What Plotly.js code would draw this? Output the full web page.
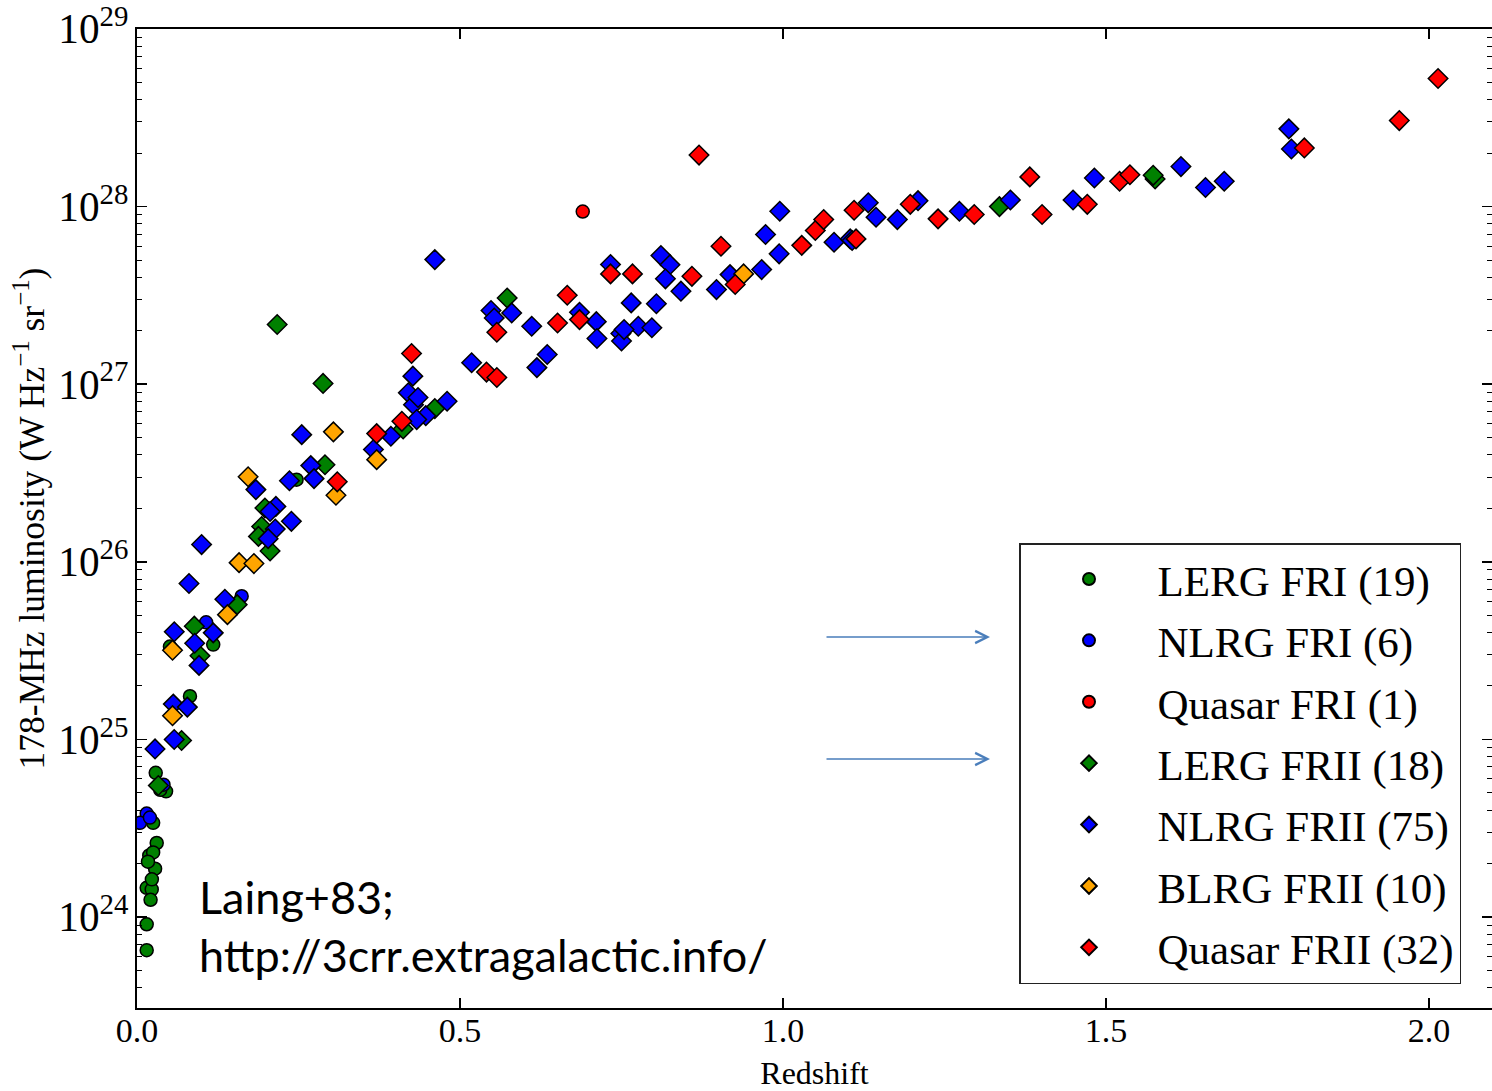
<!DOCTYPE html>
<html>
<head>
<meta charset="utf-8">
<script src="https://cdn.plot.ly/plotly-3.0.1.min.js"></script>
<style>html,body{margin:0;padding:0;background:#fff;} #chart{width:1492px;height:1091px;}</style>
</head>
<body>
<div id="chart"></div>
<script>
// ---- Data (redshift z, 178-MHz luminosity in W Hz^-1 sr^-1) ----
const lergFRI_z = [0.247, 0.118, 0.051, 0.082, 0.029, 0.045, 0.025, 0.0305, 0.019, 0.025, 0.028, 0.015, 0.0228, 0.021, 0.015, 0.015, 0.036, 0.017, 0.023];
const lergFRI_L = [2.90e26, 3.42e25, 3.33e25, 1.75e25, 6.48e24, 5.10e24, 3.39e24, 2.61e24, 2.22e24, 2.31e24, 1.87e24, 1.46e24, 1.43e24, 1.25e24, 9.1e23, 6.5e23, 5.2e24, 2.05e24, 1.63e24];

const nlrgFRI_z = [0.162, 0.107, 0.041, 0.015, 0.0046, 0.020];
const nlrgFRI_L = [6.40e25, 4.56e25, 5.56e24, 3.82e24, 3.39e24, 3.63e24];

const qsoFRI_z = [0.690];
const qsoFRI_L = [9.38e27];

const lergFRII_z = [0.291, 0.198, 0.193, 0.188, 0.206, 0.155, 0.0887, 0.0975, 0.069, 0.033, 0.217, 0.288, 0.461, 0.412, 0.573, 1.335, 1.576, 1.573];
const lergFRII_L = [3.52e26, 2.01e26, 1.58e26, 1.39e26, 1.15e26, 5.74e25, 4.34e25, 2.96e25, 9.85e24, 5.50e24, 2.17e27, 1.01e27, 7.29e26, 5.60e26, 3.06e27, 1.0e28, 1.43e28, 1.50e28];

const nlrgFRII_z = [0.255, 0.269, 0.236, 0.274, 0.184, 0.215, 0.239, 0.214, 0.203, 0.100,
  0.0805, 0.136, 0.0577, 0.118, 0.0893, 0.096, 0.0562, 0.0779, 0.0576, 0.0279,
  0.461, 0.733, 0.548, 0.580, 0.553, 0.611, 0.685, 0.711, 0.712, 0.765,
  0.776, 0.749, 0.750, 0.635, 0.619, 0.427, 0.518, 0.420, 0.428, 0.480,
  0.447, 0.433, 0.393, 0.366, 0.804, 0.811, 0.825, 0.818, 0.842, 0.797,
  0.918, 0.897, 0.967, 0.973, 0.994, 0.995, 1.079, 1.104, 1.132, 1.144,
  1.177, 1.209, 1.273, 1.352, 1.449, 1.482, 1.616, 1.654, 1.683, 1.783,
  1.787, 0.435, 0.754, 0.206, 1.107];
const nlrgFRII_L = [5.20e26, 3.48e26, 2.86e26, 2.94e26, 2.55e26, 2.05e26, 1.69e26, 1.53e26, 1.35e26, 1.25e26,
  7.55e25, 6.15e25, 4.04e25, 3.98e25, 3.48e25, 2.61e25, 1.58e25, 1.52e25, 9.98e24, 8.84e24,
  5.03e27, 4.72e27, 2.60e27, 2.52e27, 2.36e27, 2.12e27, 2.54e27, 2.25e27, 1.81e27, 2.87e27,
  2.12e27, 1.93e27, 1.75e27, 1.47e27, 1.24e27, 1.11e27, 1.32e27, 8.94e26, 7.67e26, 8.01e26,
  6.65e26, 6.32e26, 5.09e26, 4.29e26, 2.84e27, 5.30e27, 4.71e27, 3.92e27, 3.34e27, 2.08e27,
  4.14e27, 3.41e27, 4.42e27, 6.96e27, 5.42e27, 9.42e27, 6.30e27, 6.58e27, 1.05e28, 8.71e27,
  8.45e27, 1.08e28, 9.42e27, 1.09e28, 1.09e28, 1.45e28, 1.68e28, 1.28e28, 1.39e28, 2.74e28,
  2.11e28, 8.41e26, 2.03e27, 1.92e26, 6.44e27];

const blrgFRII_z = [0.055, 0.055, 0.140, 0.158, 0.181, 0.172, 0.304, 0.308, 0.371, 0.939];
const blrgFRII_L = [3.18e25, 1.36e25, 5.04e25, 9.89e25, 9.77e25, 3.01e26, 5.39e26, 2.37e26, 3.76e26, 4.18e27];

const qsoFRII_z = [0.310, 0.371, 0.410, 0.425, 0.541, 0.557, 0.557, 0.651, 0.666, 0.685,
  0.733, 0.767, 0.859, 0.870, 0.904, 0.926, 1.029, 1.050, 1.063, 1.110,
  1.113, 1.197, 1.240, 1.296, 1.382, 1.401, 1.471, 1.521, 1.537, 1.807,
  1.954, 2.014];
const qsoFRII_L = [2.82e26, 5.27e26, 6.18e26, 1.49e27, 1.17e27, 1.09e27, 1.96e27, 2.21e27, 3.17e27, 2.31e27,
  4.18e27, 4.18e27, 4.05e27, 1.95e28, 5.98e27, 3.64e27, 6.05e27, 7.33e27, 8.45e27, 9.53e27,
  6.58e27, 1.03e28, 8.53e27, 9.02e27, 1.47e28, 9.02e27, 1.03e28, 1.39e28, 1.51e28, 2.14e28,
  3.05e28, 5.26e28];

const seriesNames = ['LERG FRI (19)', 'NLRG FRI (6)', 'Quasar FRI (1)', 'LERG FRII (18)', 'NLRG FRII (75)', 'BLRG FRII (10)', 'Quasar FRII (32)'];
const xTickVals = [0.0, 0.5, 1.0, 1.5, 2.0];
const xTickText = ['0.0', '0.5', '1.0', '1.5', '2.0'];
const xTitle = 'Redshift';
const yTitle = '178-MHz luminosity (W Hz<sup>−1</sup> sr<sup>−1</sup>)';
const noteLines = ['Laing+83;', 'http://3crr.extragalactic.info/'];

// ---- Styles ----
const GREEN = '#008000', BLUE = '#0000ff', RED = '#ff0000', ORANGE = '#ffa500';
const serif = "'Liberation Serif', serif";
const sans = "Lato, sans-serif";

function mk(name, x, y, color, symbol, size) {
  return {
    type: 'scatter', mode: 'markers', name: name, x: x, y: y,
    legendgroup: name,
    marker: {color: color, symbol: symbol, size: size, line: {color: '#000', width: 1.5}},
    hoverinfo: 'x+y+name'
  };
}

const traces = [
  mk(seriesNames[0], lergFRI_z, lergFRI_L, GREEN, 'circle', 13),
  mk(seriesNames[1], nlrgFRI_z, nlrgFRI_L, BLUE, 'circle', 13),
  mk(seriesNames[2], qsoFRI_z, qsoFRI_L, RED, 'circle', 13),
  mk(seriesNames[3], lergFRII_z, lergFRII_L, GREEN, 'diamond', 15),
  mk(seriesNames[4], nlrgFRII_z, nlrgFRII_L, BLUE, 'diamond', 15),
  mk(seriesNames[5], blrgFRII_z, blrgFRII_L, ORANGE, 'diamond', 15),
  mk(seriesNames[6], qsoFRII_z, qsoFRII_L, RED, 'diamond', 15)
];

const L = 137, R = 0, T = 29, B = 83, W = 1492, H = 1091;
const pw = W - L - R, ph = H - T - B;
const px = v => (v - L) / pw;
const py = v => (H - B - v) / ph;

const layout = {
  width: W, height: H,
  margin: {l: L, r: R, t: T, b: B, pad: 0},
  paper_bgcolor: '#fff', plot_bgcolor: '#fff',
  font: {family: serif, color: '#000', size: 32},
  showlegend: true,
  legend: {
    x: px(1019), y: py(543), xanchor: 'left', yanchor: 'top',
    bgcolor: '#fff', bordercolor: '#222', borderwidth: 1.5,
    font: {family: serif, size: 43, color: '#000'},
    tracegroupgap: 2.5, itemwidth: 127, itemsizing: 'constant'
  },
  xaxis: {
    range: [0, 2.0975], tickvals: xTickVals, ticktext: xTickText,
    ticks: 'inside', ticklen: 10, tickwidth: 1.5, tickcolor: '#000',
    showline: true, linecolor: '#000', linewidth: 2, mirror: 'ticks',
    showgrid: false, zeroline: false, ticklabelstandoff: -9,
    tickfont: {family: serif, size: 34, color: '#000'},
    title: {text: xTitle, font: {family: serif, size: 32, color: '#000'}, standoff: 16}
  },
  yaxis: {
    type: 'log', range: [23.4876, 29], dtick: 1, exponentformat: 'power',
    ticks: 'inside', ticklen: 10, tickwidth: 1.5, tickcolor: '#000',
    minor: {ticks: 'inside', ticklen: 5, tickwidth: 1, tickcolor: '#000', showgrid: false},
    showline: true, linecolor: '#000', linewidth: 2, mirror: 'ticks',
    showgrid: false, zeroline: false,
    tickfont: {family: serif, size: 33, color: '#000'},
    title: {text: yTitle, font: {family: serif, size: 35.5, color: '#000'}, standoff: 3}
  },
  annotations: [
    {xref: 'paper', yref: 'paper', x: px(197), y: py(897), xanchor: 'left', yanchor: 'middle',
     text: noteLines[0], showarrow: false, font: {family: sans, size: 45, color: '#000'}},
    {xref: 'paper', yref: 'paper', x: px(197), y: py(955), xanchor: 'left', yanchor: 'middle',
     text: noteLines[1], showarrow: false, font: {family: sans, size: 45, color: '#000'}},
    {xref: 'paper', yref: 'paper', x: px(990), y: py(637), text: '', showarrow: true,
     ax: -165, ay: 0, axref: 'pixel', ayref: 'pixel', arrowhead: 5, arrowsize: 1.6, arrowwidth: 1.5,
     arrowcolor: '#4a7ebb', standoff: 0, startstandoff: 0},
    {xref: 'paper', yref: 'paper', x: px(990), y: py(759), text: '', showarrow: true,
     ax: -165, ay: 0, axref: 'pixel', ayref: 'pixel', arrowhead: 5, arrowsize: 1.6, arrowwidth: 1.5,
     arrowcolor: '#4a7ebb', standoff: 0, startstandoff: 0}
  ]
};

Plotly.newPlot('chart', traces, layout, {displayModeBar: false, staticPlot: true});
</script>
</body>
</html>
